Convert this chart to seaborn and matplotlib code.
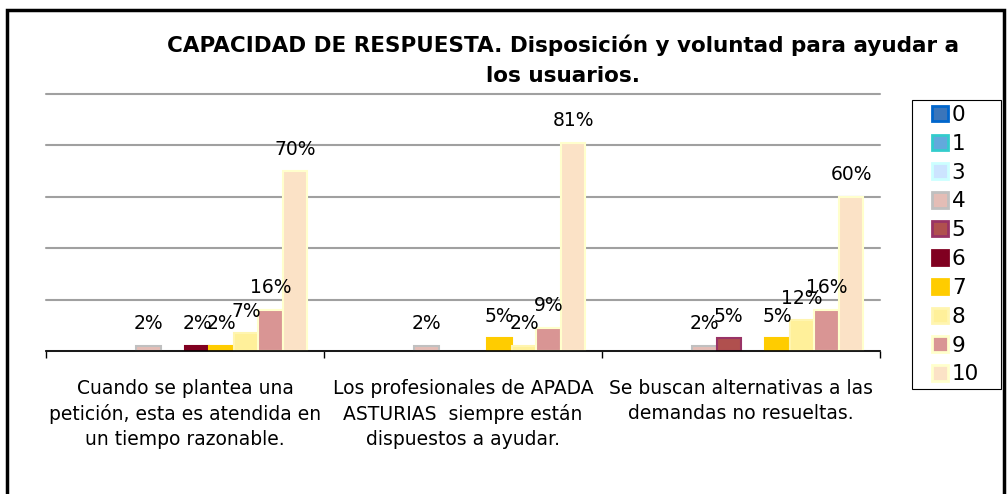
import matplotlib.pyplot as plt
import pandas as pd
import seaborn as sns
from matplotlib.patches import Patch, Rectangle

# --- Data ---
statements = [
    "Cuando se plantea una\npetición, esta es atendida en\nun tiempo razonable.",
    "Los profesionales de APADA\nASTURIAS  siempre están\ndispuestos a ayudar.",
    "Se buscan alternativas a las\ndemandas no resueltas.",
]
scores = ["0", "1", "3", "4", "5", "6", "7", "8", "9", "10"]

# percentage of answers for each score, one value per statement
pct_0 = [0, 0, 0]
pct_1 = [0, 0, 0]
pct_3 = [0, 0, 0]
pct_4 = [2, 2, 2]
pct_5 = [0, 0, 5]
pct_6 = [2, 0, 0]
pct_7 = [2, 5, 5]
pct_8 = [7, 2, 12]
pct_9 = [16, 9, 16]
pct_10 = [70, 81, 60]

fill_colors = ["#3A75BA", "#62A9DC", "#CCE4FF", "#E4BDB6", "#B0504E",
               "#800020", "#FFCC00", "#FFF09A", "#D99594", "#FBE2C6"]
edge_colors = ["#0066CC", "#33CCCC", "#CCFFFF", "#C0C0C0", "#993366",
               "#800020", "#FFCC00", "#FFF5B0", "#FFFFCC", "#FFFFCC"]


def create_chart() -> None:
    series = [pct_0, pct_1, pct_3, pct_4, pct_5, pct_6, pct_7, pct_8, pct_9, pct_10]
    rows = []
    for score, values in zip(scores, series):
        for statement, value in zip(statements, values):
            rows.append({"statement": statement, "score": score, "pct": value})
    df = pd.DataFrame(rows)

    sns.set_theme(style="white")
    plt.rcParams["font.family"] = ["DejaVu Sans"]
    plt.rcParams["text.color"] = "black"
    plt.rcParams["xtick.color"] = "black"
    plt.rcParams["axes.labelcolor"] = "black"

    fig = plt.figure(figsize=(10.08, 4.94), dpi=100)
    ax = fig.add_axes([46 / 1008, 143 / 494, 834 / 1008, 257 / 494])

    sns.barplot(
        data=df,
        x="statement",
        y="pct",
        hue="score",
        order=statements,
        hue_order=scores,
        palette=dict(zip(scores, fill_colors)),
        saturation=1,
        width=0.88,
        linewidth=1.5,
        legend=False,
        ax=ax,
    )

    # bar borders and value labels
    for container, edge in zip(ax.containers, edge_colors):
        for bar in container:
            bar.set_edgecolor(edge)
            if bar.get_height() == 0:
                bar.set_visible(False)
        labels = [f"{v:g}%" if v > 0 else "" for v in container.datavalues]
        ax.bar_label(container, labels=labels, padding=9, fontsize=13.5,
                     color="black")

    # axes styling
    ax.set_xlim(-0.5, 2.5)
    ax.set_ylim(0, 100)
    ax.set_yticks([0, 20, 40, 60, 80, 100])
    ax.yaxis.grid(True, color="#A0A0A0", linewidth=1.5)
    for line in ax.get_ygridlines():
        line.set_clip_on(False)
    ax.set_axisbelow(True)
    ax.tick_params(axis="y", length=0, labelleft=False)
    for side in ["left", "right", "top"]:
        ax.spines[side].set_visible(False)
    ax.spines["bottom"].set_color("black")
    ax.spines["bottom"].set_linewidth(1.2)
    ax.set_xlabel("")
    ax.set_ylabel("")

    ax.set_xticks(range(len(statements)), statements)
    ax.set_xticks([-0.5, 0.5, 1.5, 2.5], minor=True)
    ax.tick_params(axis="x", which="major", length=0, pad=20, labelsize=13.5,
                   labelcolor="black")
    ax.tick_params(axis="x", which="minor", length=5, width=1, color="black",
                   direction="out", bottom=True)
    for lbl in ax.get_xticklabels():
        lbl.set_verticalalignment("top")
        lbl.set_linespacing(1.4)

    # title
    fig.text(
        563 / 1008, 1 - 35 / 494,
        "CAPACIDAD DE RESPUESTA. Disposición y voluntad para ayudar a\nlos usuarios.",
        ha="center", va="top", fontsize=15.5, fontweight="bold", linespacing=1.58,
    )

    # legend (frame drawn separately to match the wide box)
    handles = [Patch(facecolor=f, edgecolor=e, linewidth=2)
               for f, e in zip(fill_colors, edge_colors)]
    fig.legend(
        handles, scores,
        loc="upper left",
        bbox_to_anchor=(932 / 1008, 1 - 105 / 494),
        frameon=False,
        fontsize=15.5, handlelength=0.72, handleheight=0.72,
        handletextpad=0.2, labelspacing=0.41, borderpad=0,
        borderaxespad=0,
    )
    fig.patches.append(Rectangle(
        (912 / 1008, 1 - 389 / 494), 89 / 1008, 289 / 494,
        transform=fig.transFigure, fill=False, edgecolor="black", linewidth=0.8,
    ))

    # outer chart border
    fig.patches.append(Rectangle(
        (7 / 1008, -0.05), 997 / 1008, 1.05 - 10 / 494,
        transform=fig.transFigure, fill=False, edgecolor="black", linewidth=2.5,
    ))

    fig.savefig("out.png", dpi=100)


if __name__ == "__main__":
    create_chart()
